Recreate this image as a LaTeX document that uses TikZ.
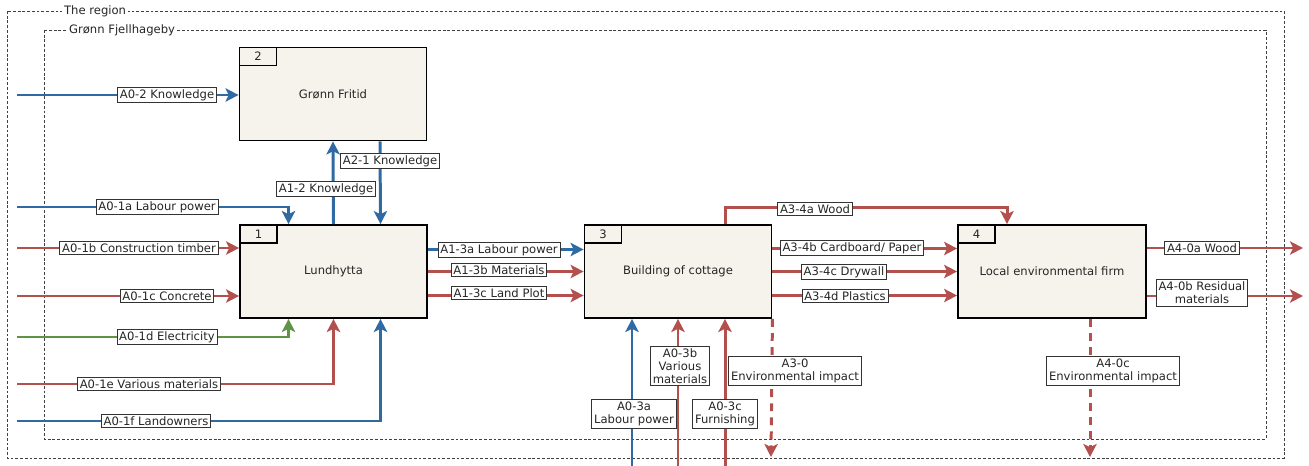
\documentclass[tikz,border=0pt]{standalone}
\usepackage{fontspec}
\setsansfont{DejaVu Sans}
\usepackage{tikz}
\usetikzlibrary{arrows.meta, calc}
\definecolor{flowblue}{HTML}{2F6AA3}
\definecolor{flowred}{HTML}{B3504D}
\definecolor{flowgreen}{HTML}{5E9444}
\definecolor{boxfill}{HTML}{F6F3EC}

\begin{document}
\begin{tikzpicture}[x=0.02cm, y=-0.02cm,
  every node/.style={font=\sffamily\fontsize{6.6pt}{7.4pt}\selectfont, text=black!85},
  act/.style={draw=black, fill=boxfill, line width=1.1pt, minimum width=3.74cm,
              minimum height=1.86cm, inner sep=0pt, align=center},
  tab/.style={draw=black, fill=boxfill, line width=1.1pt, anchor=north west,
              minimum width=0.74cm, minimum height=0.36cm, inner sep=0pt},
  lbl/.style={draw=black!80, fill=white, line width=0.5pt, align=center,
              inner xsep=1.3pt, inner ysep=1.3pt},
  region/.style={draw=black!75, line width=0.5pt, dash pattern=on 1.6pt off 1.1pt},
  regionlbl/.style={fill=white, inner sep=1pt, anchor=west},
  bflow/.style={-{Stealth[length=7.4pt, width=7.6pt, inset=1.8pt]}, draw=flowblue, line width=1.7pt},
  rflow/.style={-{Stealth[length=7.4pt, width=7.6pt, inset=1.8pt]}, draw=flowred, line width=1.7pt},
  gflow/.style={-{Stealth[length=7.4pt, width=7.6pt, inset=1.8pt]}, draw=flowgreen, line width=1.7pt},
  impact/.style={rflow, dash pattern=on 4.5pt off 3.5pt},
]
\useasboundingbox (0,0) rectangle (1309,466);
% region boundaries
\draw[region] (7,11) rectangle (1284,458);
\node[regionlbl] (regionname) at (62,11) {The region};
\draw[region] (44,30) rectangle (1266,439);
\node[regionlbl] (villagename) at (67,30) {Grønn Fjellhageby};
% activities
\node[act] (fritid) at (333,94) {Grønn Fritid};
\node[act] (lund) at (333.5,271.5) {Lundhytta};
\node[act] (cottage) at (678,271.5) {Building of cottage};
\node[act, minimum width=3.76cm] (firm) at (1052,271.5) {Local environmental firm};
\node[tab] (fritidno) at (fritid.north west) {2};
\node[tab] (lundno) at (lund.north west) {1};
\node[tab] (cottageno) at (cottage.north west) {3};
\node[tab] (firmno) at (firm.north west) {4};
% free ends
\coordinate (knowsrc) at (17,95);
\coordinate (laboursrc) at (17,207);
\coordinate (timbersrc) at (17,248);
\coordinate (concretesrc) at (17,296);
\coordinate (elsrc) at (17,337);
\coordinate (varioussrc) at (17,384);
\coordinate (landsrc) at (17,421);
\coordinate (labour3src) at (632,466);
\coordinate (various3src) at (678,466);
\coordinate (furnsrc) at (725,466);
\coordinate (env3out) at (771,457);
\coordinate (env4out) at (1090,457);
\coordinate (woodout) at (1303,248);
\coordinate (residualout) at (1303,296);
% inputs to Grønn Fritid and Lundhytta
\draw[bflow] (knowsrc) -- (knowsrc -| fritid.west);
\draw[bflow] (lund.north) -- (fritid.south);
\draw[bflow] ($(fritid.south)+(47,0)$) -- ($(lund.north)+(47,0)$);
\draw[bflow] (laboursrc) -| ($(lund.north)+(-45,0)$);
\draw[rflow] (timbersrc) -- (timbersrc -| lund.west);
\draw[rflow] (concretesrc) -- (concretesrc -| lund.west);
\draw[gflow] (elsrc) -| ($(lund.south)+(-45,0)$);
\draw[rflow] (varioussrc) -| (lund.south);
\draw[bflow] (landsrc) -| ($(lund.south)+(47,0)$);
% Lundhytta -> building of cottage
\draw[bflow] ($(lund.east)+(0,-22)$) -- ($(cottage.west)+(0,-22)$);
\draw[rflow] (lund.east) -- (cottage.west);
\draw[rflow] ($(lund.east)+(0,24)$) -- ($(cottage.west)+(0,24)$);
% inputs from below
\draw[bflow] (labour3src) -- (labour3src |- cottage.south);
\draw[rflow] (various3src) -- (cottage.south);
\draw[rflow] (furnsrc) -- (furnsrc |- cottage.south);
% building of cottage -> local environmental firm
\draw[rflow] ($(cottage.north)+(47,0)$) -- ++(0,-17) -| ($(firm.north)+(-45,0)$);
\draw[rflow] ($(cottage.east)+(0,-23)$) -- ($(firm.west)+(0,-23)$);
\draw[rflow] (cottage.east) -- (firm.west);
\draw[rflow] ($(cottage.east)+(0,24)$) -- ($(firm.west)+(0,24)$);
% outputs
\draw[rflow] (woodout -| firm.east) -- (woodout);
\draw[rflow] (residualout -| firm.east) -- (residualout);
\draw[impact] (cottage.south east) -- (env3out);
\draw[impact] (env4out |- firm.south) -- (env4out);
% labels
\node[lbl] (l02) at (167,95) {A0-2 Knowledge};
\node[lbl] (l21) at (390,161) {A2-1 Knowledge};
\node[lbl] (l12) at (326,189) {A1-2 Knowledge};
\node[lbl] (l01a) at (157,207) {A0-1a Labour power};
\node[lbl] (l01b) at (139,248) {A0-1b Construction timber};
\node[lbl] (l01c) at (167,296) {A0-1c Concrete};
\node[lbl] (l01d) at (167,337) {A0-1d Electricity};
\node[lbl] (l01e) at (149,384) {A0-1e Various materials};
\node[lbl] (l01f) at (156,421) {A0-1f Landowners};
\node[lbl] (l13a) at (499,250) {A1-3a Labour power};
\node[lbl] (l13b) at (499,270) {A1-3b Materials};
\node[lbl] (l13c) at (499,293) {A1-3c Land Plot};
\node[lbl] (l03a) at (634,414) {A0-3a\\Labour power};
\node[lbl] (l03b) at (680,366) {A0-3b\\Various\\materials};
\node[lbl] (l03c) at (725,414) {A0-3c\\Furnishing};
\node[lbl] (l30) at (795,371) {A3-0\\Environmental impact};
\node[lbl] (l34a) at (815,209) {A3-4a Wood};
\node[lbl] (l34b) at (852,248) {A3-4b Cardboard/ Paper};
\node[lbl] (l34c) at (844,272) {A3-4c Drywall};
\node[lbl] (l34d) at (845,296) {A3-4d Plastics};
\node[lbl] (l40a) at (1202,248) {A4-0a Wood};
\node[lbl] (l40b) at (1202,293) {A4-0b Residual\\materials};
\node[lbl] (l40c) at (1113,371) {A4-0c\\Environmental impact};
\end{tikzpicture}
\end{document}
